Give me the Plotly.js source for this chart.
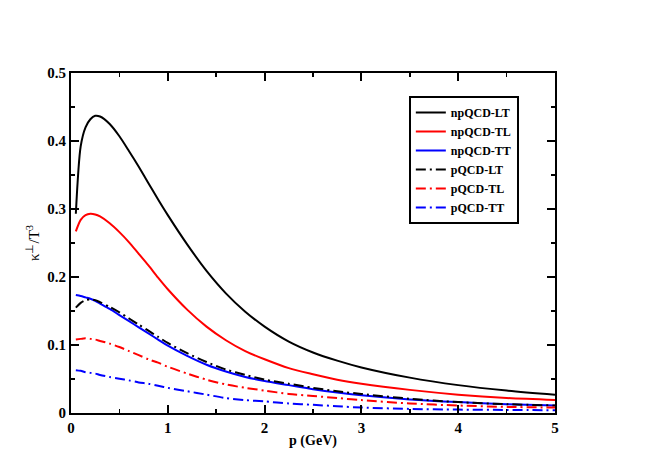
<!DOCTYPE html>
<html>
<head>
<meta charset="utf-8">
<script src="https://cdn.plot.ly/plotly-3.0.1.min.js"></script>
<style>
  html, body { margin: 0; padding: 0; background: #fff; }
  #plot { width: 664px; height: 470px; }
</style>
</head>
<body>
<div id="plot"></div>
<script>
// momentum grid (GeV)
var p = [0.05, 0.1, 0.15, 0.2, 0.25, 0.3, 0.4, 0.5, 0.6, 0.7, 0.8, 0.9, 1.0,
         1.2, 1.4, 1.6, 1.8, 2.0, 2.25, 2.5, 2.75, 3.0, 3.5, 4.0, 4.5, 5.0];

// kappa_perp / T^3
var npLT = [0.293, 0.392, 0.420, 0.432, 0.437, 0.436, 0.425, 0.407, 0.385, 0.362, 0.338, 0.314, 0.291,
            0.248, 0.209, 0.176, 0.149, 0.127, 0.105, 0.089, 0.077, 0.067, 0.052, 0.041, 0.033, 0.027];
var npTL = [0.267, 0.284, 0.291, 0.293, 0.292, 0.289, 0.279, 0.266, 0.251, 0.234, 0.217, 0.199, 0.182,
            0.152, 0.127, 0.107, 0.091, 0.079, 0.066, 0.057, 0.049, 0.043, 0.034, 0.027, 0.022, 0.019];
var npTT = [0.1735, 0.172, 0.170, 0.168, 0.165, 0.161, 0.153, 0.144, 0.135, 0.126, 0.117, 0.108, 0.099,
            0.084, 0.071, 0.061, 0.053, 0.047, 0.041, 0.035, 0.030, 0.026, 0.020, 0.016, 0.013, 0.011];
var pLT = [0.155, 0.162, 0.166, 0.167, 0.166, 0.163, 0.156, 0.148, 0.139, 0.130, 0.121, 0.112, 0.103,
           0.088, 0.075, 0.064, 0.056, 0.049, 0.043, 0.037, 0.032, 0.028, 0.021, 0.016, 0.013, 0.011];
var pTL = [0.108, 0.109, 0.110, 0.109, 0.108, 0.106, 0.102, 0.097, 0.091, 0.085, 0.079, 0.074, 0.068,
           0.058, 0.049, 0.042, 0.037, 0.033, 0.028, 0.025, 0.022, 0.019, 0.014, 0.011, 0.009, 0.008];
var pTT = [0.063, 0.062, 0.060, 0.059, 0.058, 0.056, 0.053, 0.0505, 0.048, 0.045, 0.043, 0.040, 0.037,
           0.032, 0.027, 0.022, 0.019, 0.017, 0.014, 0.012, 0.010, 0.008, 0.006, 0.005, 0.0045, 0.004];

var names = ["npQCD-LT", "npQCD-TL", "npQCD-TT", "pQCD-LT", "pQCD-TL", "pQCD-TT"];
var series = [npLT, npTL, npTT, pLT, pTL, pTT];
var colors = ["#000000", "#ff0000", "#0000ff", "#000000", "#ff0000", "#0000ff"];
var dashes = ["solid", "solid", "solid", "10px,4px,2px,4px", "10px,4px,2px,4px", "10px,4px,2px,4px"];

var data = [];
for (var i = 0; i < series.length; i++) {
    data.push({
        x: p,
        y: series[i],
        mode: 'lines',
        name: '<b>' + names[i] + '</b>',
        line: {color: colors[i], width: 2, dash: dashes[i], shape: 'spline', smoothing: 0.8}
    });
}

var font = {family: '"Liberation Serif", "Times New Roman", serif', color: '#000'};

var axis = {
    showgrid: false,
    zeroline: false,
    showline: true,
    linecolor: '#000',
    linewidth: 2,
    mirror: 'allticks',
    ticks: 'inside',
    ticklen: 8,
    tickwidth: 2,
    tickcolor: '#000',
    tickfont: {family: font.family, size: 15, color: '#000', weight: 'bold'},
    minor: {ticks: 'inside', ticklen: 4, tickwidth: 1.5, tickcolor: '#000'}
};

var layout = {
    width: 664,
    height: 470,
    paper_bgcolor: '#fff',
    plot_bgcolor: '#fff',
    margin: {l: 71, r: 109, t: 73, b: 57},
    showlegend: true,
    legend: {
        x: 0.698, y: 0.932, xanchor: 'left', yanchor: 'top',
        bordercolor: '#000', borderwidth: 2, bgcolor: '#fff',
        font: {family: font.family, size: 12, color: '#000'},
        tracegroupgap: 0
    },
    xaxis: Object.assign({}, axis, {
        range: [0, 5], dtick: 1, tick0: 0,
        minor: Object.assign({}, axis.minor, {dtick: 0.5}),
        title: {text: '<b>p (GeV)</b>', font: {family: font.family, size: 14, color: '#000'}, standoff: 0}
    }),
    yaxis: Object.assign({}, axis, {
        range: [0, 0.5], dtick: 0.1, tick0: 0,
        minor: Object.assign({}, axis.minor, {dtick: 0.05}),
        title: {text: 'κ<sup>⊥</sup>/T<sup>3</sup>', font: {family: font.family, size: 15, color: '#000'}, standoff: 4}
    })
};

Plotly.newPlot('plot', data, layout, {displayModeBar: false, staticPlot: true});
</script>
</body>
</html>
